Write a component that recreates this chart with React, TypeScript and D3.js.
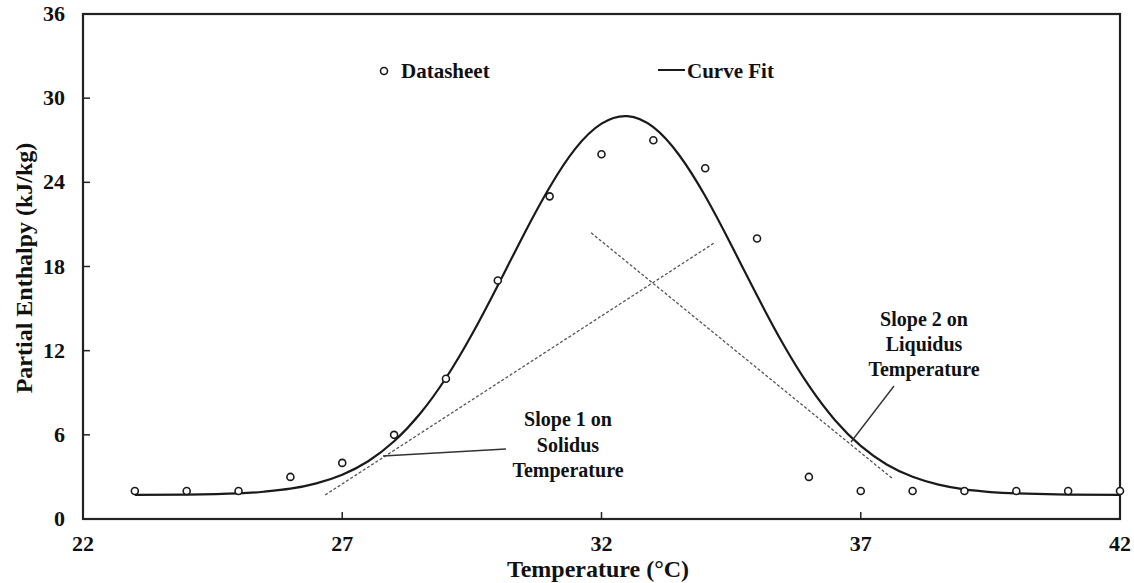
import * as d3 from "d3";

// Datasheet points
const dataT = [23, 24, 25, 26, 27, 28, 29, 30, 31, 32, 33, 34, 35, 36, 37, 38, 39, 40, 41, 42];
const dataH = [2, 2, 2, 3, 4, 6, 10, 17, 23, 26, 27, 25, 20, 3, 2, 2, 2, 2, 2, 2];

// Curve fit
const fitT = [23, 24, 25, 25.5, 26, 26.5, 27, 27.5, 28, 28.5, 29, 29.5, 30, 30.5, 31, 31.5, 32, 32.5, 33, 33.5, 34, 34.5, 35, 35.5, 36, 36.5, 37, 37.5, 38, 38.5, 39, 39.5, 40, 41, 42];
const fitH = [1.72, 1.74, 1.82, 1.95, 2.16, 2.54, 3.16, 4.12, 5.54, 7.5, 10.05, 13.15, 16.65, 20.27, 23.65, 26.42, 28.18, 28.72, 27.93, 25.93, 23.02, 19.55, 15.93, 12.49, 9.5, 7.06, 5.21, 3.89, 3.01, 2.45, 2.11, 1.92, 1.82, 1.74, 1.72];

// Tangent (slope) lines
const slope1T = [26.67, 34.17];
const slope1H = [1.71, 19.67];
const slope2T = [31.8, 37.6];
const slope2H = [20.4, 2.92];

const xTicks = [22, 27, 32, 37, 42];
const yTicks = [0, 6, 12, 18, 24, 30, 36];

const W = 1134;
const H = 583;
const margin = { left: 83, right: 14, top: 14, bottom: 64 };
const FONT = "'Liberation Serif', 'Times New Roman', serif";

export default function App() {
  const x = d3.scaleLinear().domain([22, 42]).range([margin.left, W - margin.right]);
  const y = d3.scaleLinear().domain([0, 36]).range([H - margin.bottom, margin.top]);

  const line = d3
    .line<[number, number]>()
    .x((d) => x(d[0]))
    .y((d) => y(d[1]))
    .curve(d3.curveNatural);

  const fitPts = fitT.map((t, i) => [t, fitH[i]] as [number, number]);
  const straight = d3.line<[number, number]>().x((d) => x(d[0])).y((d) => y(d[1]));
  const s1 = slope1T.map((t, i) => [t, slope1H[i]] as [number, number]);
  const s2 = slope2T.map((t, i) => [t, slope2H[i]] as [number, number]);

  const x0 = x(22), x1 = x(42), y0 = y(0), y1 = y(36);

  return (
    <svg
      width={W}
      height={H}
      style={{ position: "absolute", left: 0, top: 0, background: "#fff" }}
      fontFamily={FONT}
      fontWeight="bold"
    >
      {/* frame */}
      <rect x={x0} y={y1} width={x1 - x0} height={y0 - y1} fill="none" stroke="#222" strokeWidth={2.2} />

      {/* ticks */}
      {xTicks.slice(1, -1).map((t) => (
        <line key={"xt" + t} x1={x(t)} x2={x(t)} y1={y0} y2={y0 - 7} stroke="#222" strokeWidth={1.5} />
      ))}
      {yTicks.slice(1, -1).map((t) => (
        <line key={"yt" + t} x1={x0} x2={x0 + 7} y1={y(t)} y2={y(t)} stroke="#222" strokeWidth={1.5} />
      ))}
      {xTicks.map((t) => (
        <text key={"xl" + t} x={x(t)} y={551} textAnchor="middle" fontSize={22} fill="#111">
          {t}
        </text>
      ))}
      {yTicks.map((t) => (
        <text key={"yl" + t} x={65} y={y(t) + 7} textAnchor="end" fontSize={22} fill="#111">
          {t}
        </text>
      ))}

      {/* axis titles */}
      <text x={598} y={577} textAnchor="middle" fontSize={24} fill="#111">
        Temperature (°C)
      </text>
      <text transform="translate(32,268) rotate(-90)" textAnchor="middle" fontSize={24} fill="#111">
        Partial Enthalpy (kJ/kg)
      </text>

      {/* slope lines */}
      <path d={straight(s1) ?? ""} fill="none" stroke="#555" strokeWidth={1.3} strokeDasharray="3,2" />
      <path d={straight(s2) ?? ""} fill="none" stroke="#555" strokeWidth={1.3} strokeDasharray="3,2" />

      {/* curve fit */}
      <path d={line(fitPts) ?? ""} fill="none" stroke="#1a1a1a" strokeWidth={2.2} />

      {/* datasheet */}
      {dataT.map((t, i) => (
        <circle key={"p" + i} cx={x(t)} cy={y(dataH[i])} r={3.5} fill="#fff" stroke="#1a1a1a" strokeWidth={1.6} />
      ))}

      {/* leader lines */}
      <line x1={383} y1={456} x2={506} y2={449} stroke="#333" strokeWidth={1.4} />
      <line x1={851} y1={442} x2={894} y2={386} stroke="#333" strokeWidth={1.4} />

      {/* annotations */}
      <text textAnchor="middle" fontSize={20} fill="#111">
        <tspan x={568} y={426}>Slope 1 on</tspan>
        <tspan x={568} y={452}>Solidus</tspan>
        <tspan x={568} y={477}>Temperature</tspan>
      </text>
      <text textAnchor="middle" fontSize={20} fill="#111">
        <tspan x={924} y={326}>Slope 2 on</tspan>
        <tspan x={924} y={351}>Liquidus</tspan>
        <tspan x={924} y={376}>Temperature</tspan>
      </text>

      {/* legend */}
      <circle cx={384} cy={71} r={3.5} fill="#fff" stroke="#1a1a1a" strokeWidth={1.6} />
      <text x={401} y={78} fontSize={21} fill="#111">Datasheet</text>
      <line x1={658} x2={685} y1={70} y2={70} stroke="#1a1a1a" strokeWidth={2} />
      <text x={687} y={78} fontSize={21} fill="#111">Curve Fit</text>
    </svg>
  );
}
